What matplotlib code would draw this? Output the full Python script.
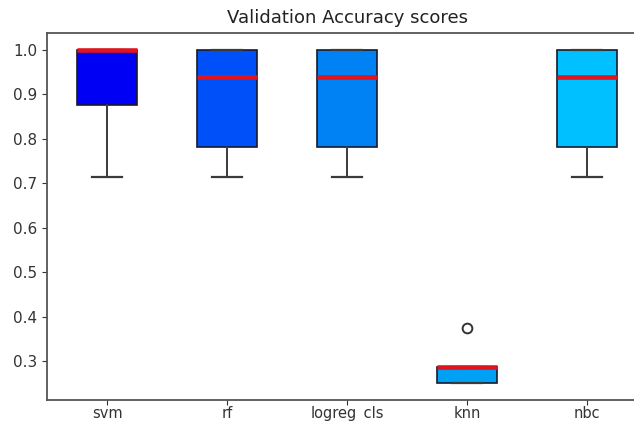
import matplotlib
matplotlib.use("Agg")
import matplotlib.pyplot as plt

labels = ["svm", "rf", "logreg_cls", "knn", "nbc"]
whislo = [0.714, 0.714, 0.714, 0.25, 0.714]
q1 = [0.875, 0.781, 0.781, 0.25, 0.781]
med = [1.0, 0.9375, 0.9375, 0.2857, 0.9375]
q3 = [1.0, 1.0, 1.0, 0.2857, 1.0]
whishi = [1.0, 1.0, 1.0, 0.2857, 1.0]
fliers = [[], [], [], [0.375], []]
colors = ["#0000f5", "#0050fa", "#0082f5", "#00a0f5", "#00c0ff"]

stats = [dict(label=l, whislo=a, q1=b, med=c, q3=d, whishi=e, fliers=f)
         for l, a, b, c, d, e, f in zip(labels, whislo, q1, med, q3, whishi, fliers)]

fig = plt.figure(figsize=(6.34, 4.21), dpi=100)
ax = fig.add_axes([47/634, 21/421, 600/634, 367/421])
bp = ax.bxp(stats, patch_artist=True,
            medianprops=dict(color="#e0141e", linewidth=3.3),
            boxprops=dict(edgecolor="#1a1a2a", linewidth=1.2),
            whiskerprops=dict(color="#3a3a3a", linewidth=1.4),
            capprops=dict(color="#3a3a3a", linewidth=1.6),
            flierprops=dict(marker="o", markerfacecolor="none",
                            markeredgecolor="#333333", markersize=7, markeredgewidth=1.4))
for patch, c in zip(bp["boxes"], colors):
    patch.set_facecolor(c)
ax.set_title("Validation Accuracy scores", fontsize=13, color="#222222", pad=7)
for s in ax.spines.values():
    s.set_color("#555555")
    s.set_linewidth(1.3)
ax.spines["right"].set_visible(False)
ax.tick_params(colors="#333333", labelsize=11)
ax.tick_params(axis="x", pad=1, labelsize=10.5)
ax.set_yticks([0.3, 0.4, 0.5, 0.6, 0.7, 0.8, 0.9, 1.0])
ax.set_xlim(0.5, 5.5)
fig.savefig("out.png", dpi=100)
